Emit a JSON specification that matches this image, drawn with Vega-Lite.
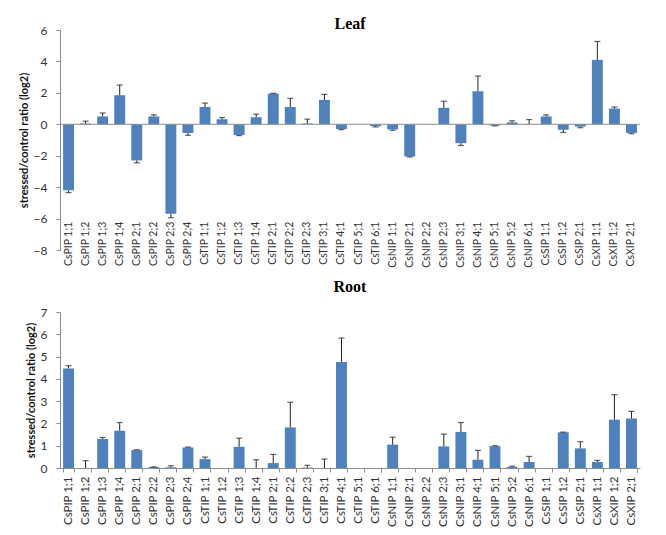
{
  "$schema": "https://vega.github.io/schema/vega-lite/v6.json",
  "padding": {"left": 18, "top": 16, "right": 10, "bottom": 5},
  "background": "#ffffff",
  "datasets": {
    "leafData": [
      {"gene": "CsPIP 1;1", "value": -4.2, "errEnd": -4.35},
      {"gene": "CsPIP 1;2", "value": 0.05, "errEnd": 0.2},
      {"gene": "CsPIP 1;3", "value": 0.5, "errEnd": 0.72},
      {"gene": "CsPIP 1;4", "value": 1.85, "errEnd": 2.5},
      {"gene": "CsPIP 2;1", "value": -2.3, "errEnd": -2.45},
      {"gene": "CsPIP 2;2", "value": 0.5, "errEnd": 0.6},
      {"gene": "CsPIP 2;3", "value": -5.7, "errEnd": -5.95},
      {"gene": "CsPIP 2;4", "value": -0.55, "errEnd": -0.7},
      {"gene": "CsTIP 1;1", "value": 1.1, "errEnd": 1.35},
      {"gene": "CsTIP 1;2", "value": 0.32, "errEnd": 0.43},
      {"gene": "CsTIP 1;3", "value": -0.68, "errEnd": -0.72},
      {"gene": "CsTIP 1;4", "value": 0.45, "errEnd": 0.65},
      {"gene": "CsTIP 2;1", "value": 1.95, "errEnd": 1.97},
      {"gene": "CsTIP 2;2", "value": 1.1, "errEnd": 1.65},
      {"gene": "CsTIP 2;3", "value": 0.05, "errEnd": 0.33},
      {"gene": "CsTIP 3;1", "value": 1.55, "errEnd": 1.9},
      {"gene": "CsTIP 4;1", "value": -0.3, "errEnd": -0.34},
      {"gene": "CsTIP 5;1", "value": 0, "errEnd": null},
      {"gene": "CsTIP 6;1", "value": -0.12, "errEnd": -0.17},
      {"gene": "CsNIP 1;1", "value": -0.33, "errEnd": -0.38},
      {"gene": "CsNIP 2;1", "value": -2.05, "errEnd": -2.08},
      {"gene": "CsNIP 2;2", "value": 0, "errEnd": null},
      {"gene": "CsNIP 2;3", "value": 1.05, "errEnd": 1.47},
      {"gene": "CsNIP 3;1", "value": -1.2, "errEnd": -1.35},
      {"gene": "CsNIP 4;1", "value": 2.1, "errEnd": 3.07},
      {"gene": "CsNIP 5;1", "value": -0.08, "errEnd": -0.1},
      {"gene": "CsNIP 5;2", "value": 0.12, "errEnd": 0.22},
      {"gene": "CsNIP 6;1", "value": 0.02, "errEnd": 0.3},
      {"gene": "CsSIP 1;1", "value": 0.5, "errEnd": 0.6},
      {"gene": "CsSIP 1;2", "value": -0.35, "errEnd": -0.52},
      {"gene": "CsSIP 2;1", "value": -0.15, "errEnd": -0.22},
      {"gene": "CsXIP 1;1", "value": 4.1, "errEnd": 5.27},
      {"gene": "CsXIP 1;2", "value": 1.0, "errEnd": 1.1},
      {"gene": "CsXIP 2;1", "value": -0.55, "errEnd": -0.6}
    ],
    "rootData": [
      {"gene": "CsPIP 1;1", "value": 4.47, "errEnd": 4.59},
      {"gene": "CsPIP 1;2", "value": 0, "errEnd": 0.33},
      {"gene": "CsPIP 1;3", "value": 1.3, "errEnd": 1.37},
      {"gene": "CsPIP 1;4", "value": 1.67, "errEnd": 2.04},
      {"gene": "CsPIP 2;1", "value": 0.8, "errEnd": 0.82},
      {"gene": "CsPIP 2;2", "value": 0.04, "errEnd": 0.05},
      {"gene": "CsPIP 2;3", "value": 0.03, "errEnd": 0.1},
      {"gene": "CsPIP 2;4", "value": 0.92, "errEnd": 0.94},
      {"gene": "CsTIP 1;1", "value": 0.4, "errEnd": 0.49},
      {"gene": "CsTIP 1;2", "value": 0, "errEnd": null},
      {"gene": "CsTIP 1;3", "value": 0.95, "errEnd": 1.34},
      {"gene": "CsTIP 1;4", "value": 0, "errEnd": 0.37},
      {"gene": "CsTIP 2;1", "value": 0.22, "errEnd": 0.61},
      {"gene": "CsTIP 2;2", "value": 1.82, "errEnd": 2.95},
      {"gene": "CsTIP 2;3", "value": 0.02, "errEnd": 0.12},
      {"gene": "CsTIP 3;1", "value": 0, "errEnd": 0.4},
      {"gene": "CsTIP 4;1", "value": 4.76, "errEnd": 5.83},
      {"gene": "CsTIP 5;1", "value": 0, "errEnd": null},
      {"gene": "CsTIP 6;1", "value": 0, "errEnd": null},
      {"gene": "CsNIP 1;1", "value": 1.05, "errEnd": 1.38},
      {"gene": "CsNIP 2;1", "value": 0, "errEnd": null},
      {"gene": "CsNIP 2;2", "value": 0, "errEnd": null},
      {"gene": "CsNIP 2;3", "value": 0.97, "errEnd": 1.52},
      {"gene": "CsNIP 3;1", "value": 1.62, "errEnd": 2.04},
      {"gene": "CsNIP 4;1", "value": 0.37, "errEnd": 0.79},
      {"gene": "CsNIP 5;1", "value": 0.98, "errEnd": 1.0},
      {"gene": "CsNIP 5;2", "value": 0.05, "errEnd": 0.08},
      {"gene": "CsNIP 6;1", "value": 0.27, "errEnd": 0.52},
      {"gene": "CsSIP 1;1", "value": 0, "errEnd": null},
      {"gene": "CsSIP 1;2", "value": 1.6, "errEnd": 1.61},
      {"gene": "CsSIP 2;1", "value": 0.88, "errEnd": 1.18},
      {"gene": "CsXIP 1;1", "value": 0.27, "errEnd": 0.34},
      {"gene": "CsXIP 1;2", "value": 2.17, "errEnd": 3.29},
      {"gene": "CsXIP 2;1", "value": 2.22, "errEnd": 2.54}
    ]
  },
  "bounds": "flush",
  "spacing": 62,
  "vconcat": [
    {
      "width": 580,
      "height": 220,
      "title": {"text": "Leaf", "frame": "group", "offset": -8},
      "data": {"name": "leafData"},
      "layer": [
        {
          "mark": {"type": "bar", "color": "#4f81bd"},
          "encoding": {
            "x": {"field": "gene", "type": "nominal", "sort": null, "scale": {"paddingInner": 0.36, "paddingOuter": 0.18}, "axis": null},
            "y": {"field": "value", "type": "quantitative", "scale": {"domain": [-8, 6], "nice": false},
              "axis": {"values": [-8, -6, -4, -2, 0, 2, 4, 6], "title": "stressed/control ratio (log2)", "grid": false, "tickSize": 4, "labelPadding": 9, "labelOverlap": false, "labelFlush": false}}
          }
        },
        {
          "data": {"values": [{}]},
          "mark": {"type": "rule", "color": "#8c8c8c", "strokeWidth": 1},
          "encoding": {"y": {"datum": 0, "type": "quantitative",
              "axis": {"values": [-8, -6, -4, -2, 0, 2, 4, 6], "title": "stressed/control ratio (log2)", "grid": false, "tickSize": 4, "labelPadding": 9, "labelOverlap": false, "labelFlush": false}}}
        },
        {
          "transform": [{"filter": "datum.errEnd != null"}],
          "mark": {"type": "rule", "color": "#222222", "strokeWidth": 1},
          "encoding": {
            "x": {"field": "gene", "type": "nominal", "sort": null, "axis": null},
            "y": {"field": "value", "type": "quantitative",
              "axis": {"values": [-8, -6, -4, -2, 0, 2, 4, 6], "title": "stressed/control ratio (log2)", "grid": false, "tickSize": 4, "labelPadding": 9, "labelOverlap": false, "labelFlush": false}},
            "y2": {"field": "errEnd"}
          }
        },
        {
          "transform": [{"filter": "datum.errEnd != null"}],
          "mark": {"type": "tick", "color": "#222222", "size": 6, "thickness": 1.2, "orient": "horizontal"},
          "encoding": {
            "x": {"field": "gene", "type": "nominal", "sort": null, "axis": null},
            "y": {"field": "errEnd", "type": "quantitative",
              "axis": {"values": [-8, -6, -4, -2, 0, 2, 4, 6], "title": "stressed/control ratio (log2)", "grid": false, "tickSize": 4, "labelPadding": 9, "labelOverlap": false, "labelFlush": false}}
          }
        },
        {
          "mark": {"type": "text", "angle": 270, "align": "right", "baseline": "middle", "font": "Lato", "fontSize": 10.5, "color": "#333333"},
          "encoding": {
            "x": {"field": "gene", "type": "nominal", "sort": null, "axis": null},
            "y": {"datum": -6.2, "type": "quantitative",
              "axis": {"values": [-8, -6, -4, -2, 0, 2, 4, 6], "title": "stressed/control ratio (log2)", "grid": false, "tickSize": 4, "labelPadding": 9, "labelOverlap": false, "labelFlush": false}},
            "text": {"field": "gene"}
          }
        }
      ]
    },
    {
      "width": 580,
      "height": 156,
      "title": {"text": "Root", "frame": "group", "offset": 11},
      "data": {"name": "rootData"},
      "layer": [
        {
          "mark": {"type": "bar", "color": "#4f81bd"},
          "encoding": {
            "x": {"field": "gene", "type": "nominal", "sort": null, "scale": {"paddingInner": 0.36, "paddingOuter": 0.18},
              "axis": {"title": null, "labelAngle": -90, "labelPadding": 4, "tickBand": "extent", "tickSize": 4, "labelFontSize": 11.5}},
            "y": {"field": "value", "type": "quantitative", "scale": {"domain": [0, 7], "nice": false},
              "axis": {"values": [0, 1, 2, 3, 4, 5, 6, 7], "title": "stressed/control ratio (log2)", "grid": false, "tickSize": 4, "labelPadding": 9, "labelOverlap": false, "labelFlush": false}}
          }
        },
        {
          "transform": [{"filter": "datum.errEnd != null"}],
          "mark": {"type": "rule", "color": "#222222", "strokeWidth": 1},
          "encoding": {
            "x": {"field": "gene", "type": "nominal", "sort": null,
              "axis": {"title": null, "labelAngle": -90, "labelPadding": 4, "tickBand": "extent", "tickSize": 4, "labelFontSize": 11.5}},
            "y": {"field": "value", "type": "quantitative",
              "axis": {"values": [0, 1, 2, 3, 4, 5, 6, 7], "title": "stressed/control ratio (log2)", "grid": false, "tickSize": 4, "labelPadding": 9, "labelOverlap": false, "labelFlush": false}},
            "y2": {"field": "errEnd"}
          }
        },
        {
          "transform": [{"filter": "datum.errEnd != null"}],
          "mark": {"type": "tick", "color": "#222222", "size": 6, "thickness": 1.2, "orient": "horizontal"},
          "encoding": {
            "x": {"field": "gene", "type": "nominal", "sort": null,
              "axis": {"title": null, "labelAngle": -90, "labelPadding": 4, "tickBand": "extent", "tickSize": 4, "labelFontSize": 11.5}},
            "y": {"field": "errEnd", "type": "quantitative",
              "axis": {"values": [0, 1, 2, 3, 4, 5, 6, 7], "title": "stressed/control ratio (log2)", "grid": false, "tickSize": 4, "labelPadding": 9, "labelOverlap": false, "labelFlush": false}}
          }
        }
      ]
    }
  ],
  "config": {
    "view": {"stroke": null},
    "font": "Lato",
    "title": {"font": "Liberation Serif", "fontSize": 16, "fontWeight": "bold", "color": "#000000", "anchor": "middle"},
    "axis": {
      "labelFont": "Lato",
      "labelFontSize": 12,
      "labelColor": "#333333",
      "domainColor": "#8c8c8c",
      "tickColor": "#8c8c8c",
      "titleFont": "Lato",
      "titleFontSize": 11,
      "titleFontWeight": "bold",
      "titleColor": "#111111",
      "titlePadding": 4
    }
  }
}
